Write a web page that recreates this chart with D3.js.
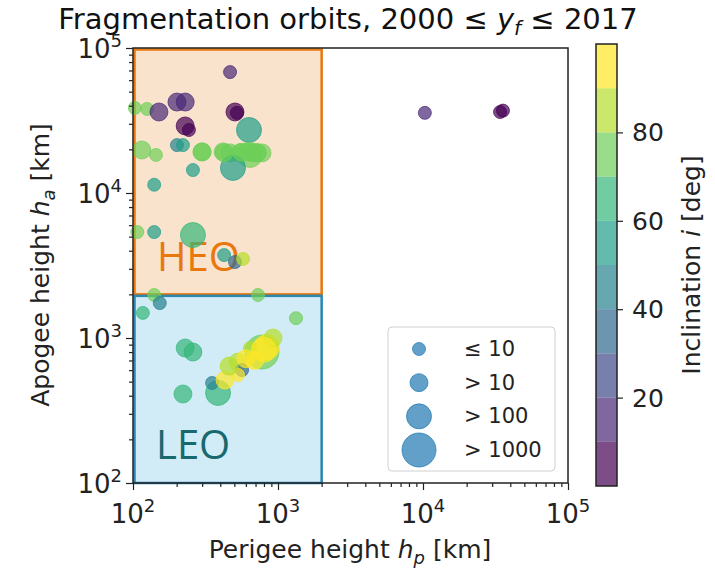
<!DOCTYPE html>
<html>
<head>
<meta charset="utf-8">
<script src="https://cdn.jsdelivr.net/npm/d3@7"></script>
<style>
  body { margin: 0; background: #fff; }
  svg { display: block; font-family: "DejaVu Sans", sans-serif; }
</style>
</head>
<body>
<script>
// fragmentation events: perigee / apogee [km], inclination [deg], fragment count
var perigee = [467, 103, 125, 151, 201, 229, 229, 243, 505, 521, 631, 115, 144, 201, 221,
    299, 418, 467, 547, 611, 716, 776, 641, 489, 259, 140, 107, 140, 259, 425, 505, 574,
    140, 728, 117, 153, 1331, 229, 259, 221, 386, 351, 431, 530, 565, 530, 776, 840, 924,
    641, 690, 10300, 34000, 35600,
    425, 560, 720, 460, 800, 600, 300, 660];
var apogee = [68200, 38600, 38000, 36200, 42400, 42400, 29000, 27200, 36200, 35700, 27200,
    19800, 18300, 21400, 21400, 19200, 19200, 18900, 18900, 19200, 18900, 18900, 18300,
    14900, 14400, 11400, 5380, 5380, 5130, 3730, 3340, 3510, 1980, 1980, 1490, 1740, 1370,
    853, 800, 411, 418, 490, 513, 682, 601, 556, 800, 867, 1000, 853, 700, 35700, 36200, 37000,
    19000, 19100, 19000, 640, 830, 720, 19200, 19000];
var inclination = [15, 75, 75, 15, 15, 15, 5, 3, 5, 3, 55, 75, 75, 48, 52, 75, 75, 75, 75,
    75, 75, 75, 70, 56, 52, 52, 75, 52, 62, 58, 32, 88, 72, 72, 65, 45, 75, 62, 62, 62, 62,
    48, 92, 88, 35, 92, 75, 92, 88, 85, 92, 15, 3, 3,
    75, 75, 75, 88, 92, 95, 75, 75];
var fragments = [5, 5, 5, 50, 50, 50, 50, 5, 50, 5, 500, 50, 5, 5, 5, 50, 50, 50, 50, 50,
    50, 50, 500, 500, 5, 5, 5, 5, 500, 5, 5, 5, 5, 5, 5, 5, 5, 50, 50, 50, 500, 5, 50, 50,
    5, 5, 2000, 500, 50, 5, 50, 5, 5, 5,
    50, 50, 50, 50, 500, 50, 50, 50];

var xTicks = [1e2, 1e3, 1e4, 1e5];
var yTicks = [1e2, 1e3, 1e4, 1e5];
var cbTicks = [20, 40, 60, 80];
var legendLabels = ["≤ 10", "> 10", "> 100", "> 1000"];
var legendCounts = [5, 50, 500, 5000];
var heoBox = {hp: [100, 2000], ha: [2000, 100000]};
var leoBox = {hp: [100, 2000], ha: [100, 2000]};

var svg = d3.select("body").append("svg")
    .attr("width", 715)
    .attr("height", 573);

var xScale = d3.scaleLog().domain([1e2, 1e5]).range([133, 568]);
var yScale = d3.scaleLog().domain([1e2, 1e5]).range([483, 48]);
var cScale = d3.scaleLinear().domain([0, 100]).range([486, 44]);
var rScale = d3.scaleThreshold().domain([11, 101, 1001]).range([6.5, 9, 12.5, 17]);

// 10 discrete viridis bands
function incColor(v) {
    var k = Math.min(9, Math.floor(v / 10));
    return d3.interpolateViridis(k / 9);
}

// region boxes
function box(b, fill, stroke) {
    svg.append("rect")
        .attr("x", xScale(b.hp[0]) + 1.5)
        .attr("y", yScale(b.ha[1]) + 1.5)
        .attr("width", xScale(b.hp[1]) - xScale(b.hp[0]) - 1.5)
        .attr("height", yScale(b.ha[0]) - yScale(b.ha[1]) - 1.5)
        .attr("fill", fill)
        .attr("stroke", stroke)
        .attr("stroke-width", 2.5);
}
box(heoBox, "#fae3cc", "#e8780e");
box(leoBox, "#d2ecf7", "#2b87b0");

svg.append("text").text("HEO")
    .attr("x", 157).attr("y", 271)
    .attr("font-family", "Open Sans").attr("font-size", "40px")
    .attr("fill", "#e8780e");
svg.append("text").text("LEO")
    .attr("x", 156).attr("y", 459)
    .attr("font-family", "Open Sans").attr("font-size", "40px")
    .attr("fill", "#17696f");

// points
var idx = d3.range(perigee.length);
svg.append("g").selectAll("circle")
    .data(idx)
    .enter()
    .append("circle")
    .attr("cx", function (i) { return xScale(perigee[i]); })
    .attr("cy", function (i) { return yScale(apogee[i]); })
    .attr("r", function (i) { return rScale(fragments[i]); })
    .attr("fill", function (i) { return incColor(inclination[i]); })
    .attr("stroke", function (i) { return incColor(inclination[i]); })
    .attr("fill-opacity", 0.7)
    .attr("stroke-opacity", 0.7)
    .attr("stroke-width", 1);

// axes
var minor = [];
[1e2, 1e3, 1e4].forEach(function (d) {
    for (var m = 2; m <= 9; m++) minor.push(d * m);
});

svg.append("g").attr("transform", "translate(0,483)")
    .call(d3.axisBottom(xScale).tickValues(xTicks).tickSize(7).tickFormat(function () { return ""; }));
svg.append("g").attr("transform", "translate(0,483)")
    .call(d3.axisBottom(xScale).tickValues(minor).tickSize(4).tickFormat(function () { return ""; }));
svg.append("g").attr("transform", "translate(133,0)")
    .call(d3.axisLeft(yScale).tickValues(yTicks).tickSize(7).tickFormat(function () { return ""; }));
svg.append("g").attr("transform", "translate(133,0)")
    .call(d3.axisLeft(yScale).tickValues(minor).tickSize(4).tickFormat(function () { return ""; }));
svg.selectAll(".domain").remove();
svg.selectAll(".tick line").attr("stroke", "#222").attr("stroke-width", 1.2);

svg.append("rect")
    .attr("x", 133).attr("y", 48)
    .attr("width", 435).attr("height", 435)
    .attr("fill", "none").attr("stroke", "#222").attr("stroke-width", 1.5);

function powLabel(sel, p) {
    sel.append("tspan").text("10");
    sel.append("tspan").text(p).attr("font-size", "18px").attr("dy", "-11");
}
xTicks.forEach(function (d) {
    var t = svg.append("text")
        .attr("x", xScale(d)).attr("y", 523)
        .attr("text-anchor", "middle")
        .attr("font-size", "26px").attr("fill", "#222");
    powLabel(t, Math.round(Math.log10(d)));
});
yTicks.forEach(function (d) {
    var t = svg.append("text")
        .attr("x", 122).attr("y", yScale(d) + 10)
        .attr("text-anchor", "end")
        .attr("font-size", "26px").attr("fill", "#222");
    powLabel(t, Math.round(Math.log10(d)));
});

// axis labels
var xl = svg.append("text")
    .attr("x", 350).attr("y", 558)
    .attr("text-anchor", "middle").attr("font-size", "25px").attr("fill", "#222");
xl.append("tspan").text("Perigee height ");
xl.append("tspan").text("h").attr("font-style", "italic");
xl.append("tspan").text("p").attr("font-style", "italic").attr("font-size", "18px").attr("dy", 6);
xl.append("tspan").text(" [km]").attr("dy", -6);

var yl = svg.append("text")
    .attr("transform", "translate(49,265) rotate(-90)")
    .attr("text-anchor", "middle").attr("font-size", "25px").attr("fill", "#222");
yl.append("tspan").text("Apogee height ");
yl.append("tspan").text("h").attr("font-style", "italic");
yl.append("tspan").text("a").attr("font-style", "italic").attr("font-size", "18px").attr("dy", 6);
yl.append("tspan").text(" [km]").attr("dy", -6);

// title
var tt = svg.append("text")
    .attr("x", 348).attr("y", 29)
    .attr("text-anchor", "middle").attr("font-size", "29px").attr("fill", "#111");
tt.append("tspan").text("Fragmentation orbits, 2000 ≤ ");
tt.append("tspan").text("y").attr("font-style", "italic");
tt.append("tspan").text("f").attr("font-style", "italic").attr("font-size", "20px").attr("dy", 6);
tt.append("tspan").text(" ≤ 2017").attr("dy", -6);

// legend
var lg = svg.append("g");
lg.append("rect")
    .attr("x", 388).attr("y", 327).attr("width", 167).attr("height", 144)
    .attr("rx", 4).attr("fill", "#fff").attr("fill-opacity", 0.8)
    .attr("stroke", "#d0d0d0");
var legY = d3.scalePoint().domain(legendLabels).range([349, 450]);
legendLabels.forEach(function (lab, k) {
    lg.append("circle")
        .attr("cx", 419).attr("cy", legY(lab))
        .attr("r", rScale(legendCounts[k]))
        .attr("fill", "#1f77b4").attr("stroke", "#1f77b4")
        .attr("fill-opacity", 0.7).attr("stroke-opacity", 0.7);
    lg.append("text").text(lab)
        .attr("x", 464).attr("y", legY(lab) + 7)
        .attr("font-size", "21px").attr("fill", "#222");
});

// colorbar
var cb = svg.append("g");
cb.selectAll("rect")
    .data(d3.range(10))
    .enter()
    .append("rect")
    .attr("x", 596)
    .attr("y", function (k) { return cScale((k + 1) * 10); })
    .attr("width", 21)
    .attr("height", function (k) { return cScale(k * 10) - cScale((k + 1) * 10); })
    .attr("fill", function (k) { return d3.interpolateViridis(k / 9); })
    .attr("fill-opacity", 0.7);
cb.append("rect")
    .attr("x", 596).attr("y", 44).attr("width", 21).attr("height", 442)
    .attr("fill", "none").attr("stroke", "#222").attr("stroke-width", 1.5);
cb.append("g").attr("transform", "translate(617,0)")
    .call(d3.axisRight(cScale).tickValues(cbTicks).tickSize(6).tickFormat(function () { return ""; }))
    .call(function (g) { g.select(".domain").remove(); })
    .selectAll("line").attr("stroke", "#222").attr("stroke-width", 1.2);
cbTicks.forEach(function (d) {
    cb.append("text").text(d)
        .attr("x", 632).attr("y", cScale(d) + 9)
        .attr("font-size", "25px").attr("fill", "#222");
});
var cl = svg.append("text")
    .attr("transform", "translate(700,265) rotate(-90)")
    .attr("text-anchor", "middle").attr("font-size", "25px").attr("fill", "#222");
cl.append("tspan").text("Inclination ");
cl.append("tspan").text("i").attr("font-style", "italic");
cl.append("tspan").text(" [deg]");
</script>
</body>
</html>
